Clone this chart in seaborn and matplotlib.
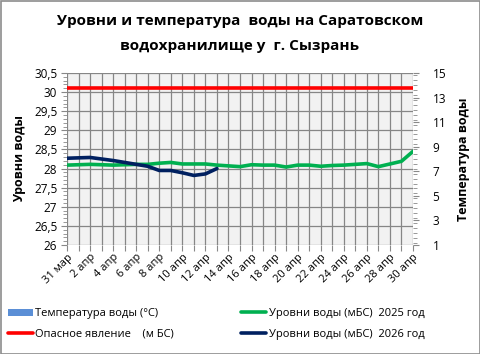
import matplotlib
matplotlib.use("Agg")
import matplotlib.pyplot as plt
import seaborn as sns
import pandas as pd
import numpy as np
from matplotlib.patches import Rectangle, Patch
from matplotlib.lines import Line2D
from matplotlib.ticker import MultipleLocator, FixedLocator, FuncFormatter

dates = ["31 мар"] + [f"{d} апр" for d in range(1, 31)]
level_2025 = [28.09, 28.10, 28.11, 28.10, 28.09, 28.10, 28.11, 28.11, 28.14, 28.16,
              28.12, 28.12, 28.12, 28.09, 28.07, 28.05, 28.10, 28.09, 28.09, 28.04,
              28.09, 28.09, 28.06, 28.08, 28.09, 28.11, 28.13, 28.05, 28.12, 28.19, 28.45]
level_2026 = [28.27, 28.28, 28.29, 28.25, 28.21, 28.16, 28.11, 28.06, 27.95, 27.95,
              27.89, 27.82, 27.86, 28.00]
danger_level = [30.1] * len(dates)
water_temp = []
temp_ticks = [1, 3, 5, 7, 9, 11, 13, 15]

sns.set_style("white")
plt.rcParams['font.family'] = ['Open Sans', 'DejaVu Sans']
plt.rcParams['text.color'] = 'black'
plt.rcParams['axes.labelcolor'] = 'black'
plt.rcParams['xtick.color'] = 'black'
plt.rcParams['ytick.color'] = 'black'

fig = plt.figure(figsize=(4.81, 3.54), dpi=100)
ax = fig.add_axes([67/481, 1-245/354, (413-67)/481, (245-73)/354])
ax.set_facecolor("#f2f2f2")

df25 = pd.DataFrame({"x": np.arange(len(level_2025)), "y": level_2025})
df26 = pd.DataFrame({"x": np.arange(len(level_2026)), "y": level_2026})
dfd = pd.DataFrame({"x": np.arange(len(danger_level)), "y": danger_level})

sns.lineplot(data=dfd, x="x", y="y", ax=ax, color="#ff0000", linewidth=2.6)
sns.lineplot(data=df25, x="x", y="y", ax=ax, color="#00b050", linewidth=2.6)
sns.lineplot(data=df26, x="x", y="y", ax=ax, color="#002060", linewidth=2.6)

ax.set_xlim(0, len(dates) - 1)
ax.set_ylim(26, 30.5)
ax.set_xticks(np.arange(len(dates)))
ax.set_xticklabels([d if i % 2 == 0 else "" for i, d in enumerate(dates)],
                   rotation=45, ha="right", rotation_mode="anchor", fontsize=8)
ax.yaxis.set_major_locator(MultipleLocator(0.5))
ax.yaxis.set_minor_locator(MultipleLocator(0.1))
ax.yaxis.set_major_formatter(FuncFormatter(lambda v, p: (f"{v:g}").replace(".", ",")))
ax.tick_params(axis="y", which="major", labelsize=8.5, length=4, color="#888888", pad=3)
ax.tick_params(axis="y", which="minor", length=3, color="#888888", left=True)
ax.tick_params(axis="x", length=4, color="#888888", bottom=True, pad=1)
ax.grid(True, which="major", color="#868686", linewidth=0.9)
ax.set_axisbelow(True)
for s in ax.spines.values():
    s.set_visible(False)
ax.set_xlabel("")
ax.set_ylabel("Уровни воды", fontsize=9, fontweight="bold", labelpad=6)

ax2 = ax.twinx()
ax2.set_ylim(1, 15)
ax2.yaxis.set_major_locator(FixedLocator(temp_ticks))
ax2.yaxis.set_minor_locator(MultipleLocator(0.4))
ax2.tick_params(axis="y", which="major", labelsize=8.5, length=4, color="#888888", right=True, pad=10)
ax2.tick_params(axis="y", which="minor", length=3, color="#888888", right=True)
for s in ax2.spines.values():
    s.set_visible(False)
ax2.set_ylabel("Температура воды", fontsize=9, fontweight="bold", labelpad=8)
if water_temp:
    ax2.bar(np.arange(len(water_temp)), water_temp, color="#5b8fd6")

fig.text(240/481, 1-21/354, "Уровни и температура  воды на Саратовском",
         ha="center", va="center", fontsize=11, fontweight="bold", color="black")
fig.text(240/481, 1-46/354, "водохранилище у  г. Сызрань",
         ha="center", va="center", fontsize=11, fontweight="bold", color="black")

handles = [Patch(facecolor="#5b8fd6", edgecolor="none"),
           Line2D([], [], color="#ff0000", linewidth=2.6),
           Line2D([], [], color="#00b050", linewidth=2.6),
           Line2D([], [], color="#002060", linewidth=2.6)]
labels = ["Температура воды (°С)", "Опасное явление    (м БС)",
          "Уровни воды (мБС)  2025 год", "Уровни воды (мБС)  2026 год"]
fig.legend(handles, labels, ncol=2, loc="center", bbox_to_anchor=(0.449, 1-324/354),
           frameon=False, fontsize=8, handlelength=2.3, handletextpad=0.2,
           columnspacing=6.0, labelspacing=0.85)

fig.patches.append(Rectangle((0.5/481, 0.5/354), 1-1.5/481, 1-1.5/354,
                             transform=fig.transFigure, fill=False,
                             edgecolor="#8c8c8c", linewidth=1.2))
fig.savefig("out.png", dpi=100)
